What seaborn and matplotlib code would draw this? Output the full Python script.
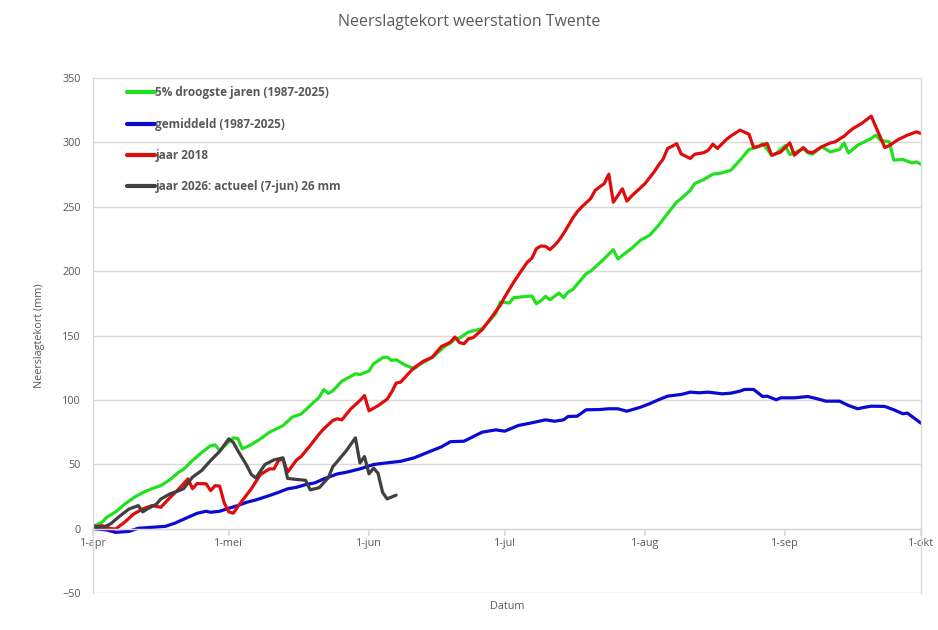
import matplotlib
matplotlib.use("Agg")
import matplotlib.pyplot as plt
import seaborn as sns
import pandas as pd
import numpy as np

# ---- data (day offset since 1-apr, value in mm) ----
green_days = [0, 2, 3, 5, 7, 9, 11, 13, 15, 17, 19, 20, 22, 24, 26, 27, 28, 29, 31, 32, 33, 35, 37, 39, 42, 44,
              46, 48, 50, 51, 52, 53, 55, 58, 59, 61, 62, 64, 65, 66, 67, 69, 71, 72, 75, 78, 79, 80, 81, 83,
              86, 87, 89, 90, 92, 93, 96, 97, 98, 99, 100, 101, 103, 104, 105, 106, 109, 110, 112, 113, 115,
              116, 118, 119, 121, 123, 125, 127, 129, 130, 132, 133, 135, 137, 139, 141, 143, 145, 147, 148,
              150, 151, 153, 154, 157, 158, 159, 161, 163, 165, 166, 167, 169, 172, 173, 174, 176, 177, 179,
              181, 182, 183]
green_vals = [1.5, 5, 8.8, 13, 19, 24, 28, 31, 33.4, 38, 44, 46, 53, 59, 64.5, 65, 60.6, 64, 70.5, 70, 62, 65.3,
              69.7, 74.9, 80, 86.6, 89, 95.6, 102, 108, 105, 107, 114.5, 120.3, 119.7, 122.5, 128, 132.7, 133.2,
              130.6, 131.2, 127, 124.2, 127, 133, 142.3, 144, 147.5, 148, 152.7, 155.3, 159, 167, 176, 175.2,
              179.4, 180.4, 180.7, 174.7, 177, 180.4, 177.8, 183, 179.4, 183.8, 185.6, 198, 200, 206.3, 209.7,
              216.7, 209.5, 214.9, 217.5, 224, 227.8, 235.6, 244.7, 253.7, 256.4, 262.8, 268, 271.2, 275.3,
              276.3, 278.4, 286.2, 294.5, 296.5, 299.1, 290, 291.5, 297.5, 290.5, 295, 292, 290.8, 296.5, 292.6,
              294.5, 299.6, 291.8, 297.8, 303, 305.6, 301.7, 300.4, 286.2, 286.7, 284, 284.8, 283]

blue_days = [0, 3, 5, 8, 10, 13, 16, 18, 21, 23, 25, 26, 28, 30, 32, 34, 36, 39, 41, 43, 45, 47, 49, 51, 54, 56,
             59, 62, 65, 68, 71, 74, 77, 79, 82, 86, 89, 91, 94, 97, 100, 102, 104, 105, 107, 109, 112, 114,
             116, 118, 121, 123, 125, 127, 130, 132, 134, 136, 139, 141, 143, 144, 146, 148, 149, 151, 152,
             155, 158, 160, 162, 165, 167, 169, 170, 172, 175, 177, 179, 180, 181, 183]
blue_vals = [0, -1, -2.9, -2.1, 0.3, 1, 1.8, 4.1, 8.8, 11.9, 13.5, 12.7, 13.5, 15.8, 17.9, 20.5, 22.3, 25.7, 28.2,
             30.9, 32.1, 34.2, 35.5, 38.6, 42.5, 43.8, 46.4, 49.8, 51.1, 52.3, 55, 59.3, 63.5, 67.5, 67.9, 74.9,
             76.7, 75.7, 80.1, 82.2, 84.5, 83.4, 84.5, 87.1, 87.3, 92.3, 92.5, 93.1, 93.1, 91.2, 94.3, 97,
             100.1, 102.9, 104.2, 106, 105.5, 106, 104.7, 105.2, 106.8, 108.1, 108.1, 102.6, 102.9, 100.1,
             101.6, 101.6, 102.6, 100.9, 99, 99, 95.6, 93.1, 93.9, 95.1, 94.9, 92.3, 89.2, 89.7, 87.1, 81.9]

red_days = [0, 2, 4, 5, 7, 9, 11, 13, 15, 17, 19, 21, 22, 23, 25, 26, 27, 28, 29, 30, 31, 32, 33, 35, 37, 39, 40,
            41, 42, 43, 45, 46, 48, 50, 51, 53, 54, 55, 57, 59, 60, 61, 62, 63, 65, 66, 67, 68, 70, 71, 73, 75,
            77, 78, 79, 80, 81, 82, 83, 84, 86, 88, 90, 91, 93, 95, 96, 97, 98, 99, 100, 101, 102, 103, 104,
            105, 106, 107, 108, 110, 111, 113, 114, 115, 117, 118, 119, 122, 124, 125, 126, 127, 128, 129,
            130, 132, 133, 135, 136, 137, 138, 140, 141, 143, 145, 146, 147, 149, 150, 152, 154, 155, 157,
            158, 159, 161, 163, 164, 166, 167, 168, 170, 172, 175, 176, 178, 180, 182, 183]
red_vals = [1, 2.3, 0, -0.3, 5, 11.4, 15.3, 17.9, 16.6, 24, 31, 38.6, 31, 35, 34.8, 29.5, 33.4, 33, 20, 13, 12,
            17, 21.8, 31, 42, 46.4, 46.4, 52.9, 54, 43.8, 53.4, 56, 64.5, 73.6, 77.5, 84, 85.3, 84.5, 93.1,
            99.5, 103.4, 91.5, 93.5, 95.5, 100.5, 106, 113, 113.8, 121.5, 125, 130, 133.2, 141.5, 143, 144.9,
            148.8, 144.5, 143.6, 147.5, 148.3, 154.5, 163.8, 173.4, 180, 191.5, 202, 207, 210, 217.5, 219.5,
            219.3, 216.7, 220, 224, 229.2, 235, 241, 246, 249.8, 256.4, 262.8, 268, 275.3, 253.5, 264, 254.4,
            258.2, 268, 277, 282.3, 287, 295.3, 297, 299, 291, 287.5, 290.8, 292, 294, 298.6, 295.3, 302.3,
            305, 309.5, 306.3, 296, 296.8, 299.1, 290, 292.5, 299.6, 290, 296, 292.6, 292, 296.5, 299.6,
            300.4, 304.8, 308, 310.8, 315, 320.4, 296, 297.5, 302.3, 305.6, 308.2, 306.9]

gray_days = [0, 2, 4, 6, 8, 10, 11, 12, 14, 15, 17, 19, 20, 22, 24, 26, 28, 30, 31, 32, 34, 35, 36, 38, 40, 42,
             43, 45, 46, 47, 48, 50, 52, 53, 56, 58, 59, 60, 61, 62, 63, 64, 65, 67]
gray_vals = [2.3, 0.5, 4, 10, 15.3, 17.9, 13, 15.3, 19, 23, 27, 29.5, 31, 40, 45.1, 52.9, 60, 69.7, 67, 60.6, 49,
             42, 39.4, 49.8, 53.4, 55, 39, 38.2, 37.9, 37.5, 30.1, 31.8, 39.5, 48, 60.6, 70.5, 51, 56, 42.5, 47,
             43, 28.2, 23.1, 26]

series_labels = ["5% droogste jaren (1987-2025)", "gemiddeld (1987-2025)", "jaar 2018",
                 "jaar 2026: actueel (7-jun) 26 mm"]
series_colors = ["#22e01e", "#0a0ad2", "#e00b0b", "#404040"]

month_ticks = [0, 30, 61, 91, 122, 153, 183]
month_labels = ["1-apr", "1-mei", "1-jun", "1-jul", "1-aug", "1-sep", "1-okt"]
y_ticks = [-50, 0, 50, 100, 150, 200, 250, 300, 350]

title = "Neerslagtekort weerstation Twente"
xlabel = "Datum"
ylabel = "Neerslagtekort (mm)"

# ---- build long dataframe ----
frames = []
for lab, d, v in zip(series_labels,
                     [green_days, blue_days, red_days, gray_days],
                     [green_vals, blue_vals, red_vals, gray_vals]):
    frames.append(pd.DataFrame({"dag": d, "mm": v, "reeks": lab}))
df = pd.concat(frames, ignore_index=True)

sns.set_theme(style="white")
plt.rcParams["font.family"] = ["Open Sans", "DejaVu Sans"]

fig = plt.figure(figsize=(9.38, 6.30), dpi=100)
ax = fig.add_axes([93 / 938, 1 - 593 / 630, 828 / 938, 515 / 630])

sns.lineplot(data=df, x="dag", y="mm", hue="reeks", hue_order=series_labels,
             palette=dict(zip(series_labels, series_colors)), linewidth=2.3,
             ax=ax, sort=False, estimator=None)

ax.set_xlim(0, 183)
ax.set_ylim(-50, 350)
ax.set_yticks(y_ticks)
ax.set_xticks(month_ticks)
ax.set_xticklabels(month_labels)

gridc = "#d9d9d9"
txtc = "#595959"
ax.yaxis.grid(True, color=gridc, linewidth=1)
ax.xaxis.grid(False)
ax.set_axisbelow(True)

ax.spines["top"].set_visible(False)
ax.spines["left"].set_color(gridc)
ax.spines["right"].set_color(gridc)
ax.spines["bottom"].set_color(gridc)
ax.spines["bottom"].set_position(("data", 0))
for s in ["left", "right", "bottom"]:
    ax.spines[s].set_linewidth(1)

ax.tick_params(axis="x", which="major", direction="out", length=5, color=gridc,
               labelsize=7.8, labelcolor=txtc, pad=2, bottom=True)
ax.tick_params(axis="y", which="major", length=0, labelsize=7.8, labelcolor=txtc, pad=9)

ax.set_xlabel(xlabel, fontsize=7.8, color=txtc, labelpad=0)
ax.xaxis.set_label_coords(0.5, -0.015)
ax.set_ylabel(ylabel, fontsize=7.8, color=txtc)
ax.yaxis.set_label_coords(-0.058, 0.5)

fig.suptitle(title, x=0.5, y=0.978, fontsize=11.5, color=txtc)

leg = ax.legend(loc="upper left", bbox_to_anchor=(0.034, 0.995), frameon=False,
                handlelength=2.35, handletextpad=0.05, labelspacing=1.55, borderpad=0,
                prop={"weight": "bold", "size": 8.5})
for t in leg.get_texts():
    t.set_color(txtc)
for h in leg.get_lines():
    h.set_linewidth(3)

fig.savefig("out.png", dpi=100)
